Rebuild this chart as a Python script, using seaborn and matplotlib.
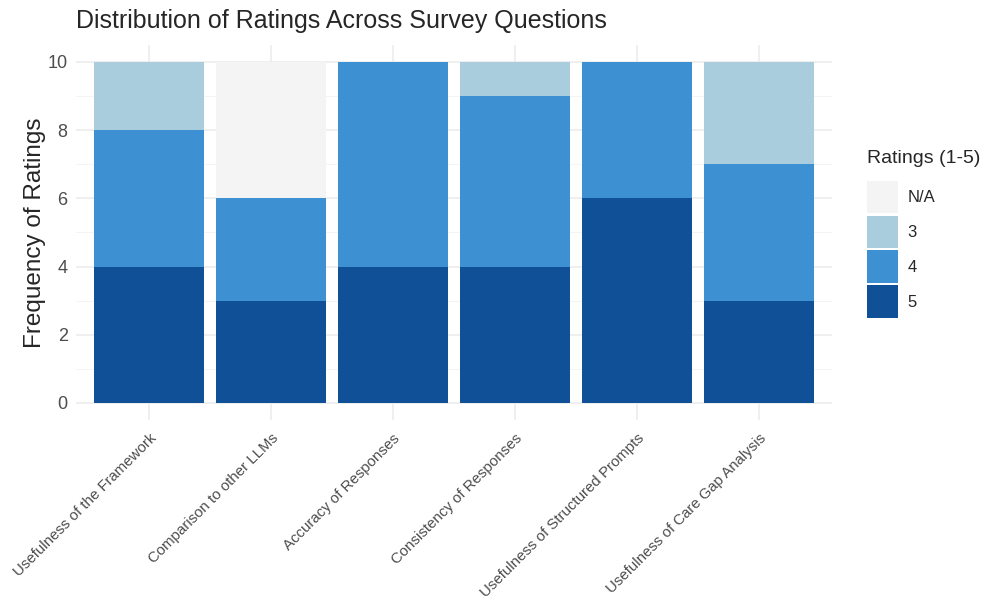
import matplotlib
matplotlib.use("Agg")
import matplotlib.pyplot as plt
import seaborn as sns
import pandas as pd
from matplotlib.patches import Patch

questions = ["Usefulness of the Framework", "Comparison to other LLMs",
             "Accuracy of Responses", "Consistency of Responses",
             "Usefulness of Structured Prompts", "Usefulness of Care Gap Analysis"]
ratings = ["N/A", "3", "4", "5"]
count_na = [0, 4, 0, 0, 0, 0]
count_3 = [2, 0, 0, 1, 0, 3]
count_4 = [4, 3, 6, 5, 4, 4]
count_5 = [4, 3, 4, 4, 6, 3]
colors = {"N/A": "#F4F4F4", "3": "#AACDDD", "4": "#3D91D3", "5": "#105096"}

rows = []
for lab, vals in zip(ratings, [count_na, count_3, count_4, count_5]):
    for q, v in zip(questions, vals):
        rows.append({"question": q, "rating": lab, "count": v})
df = pd.DataFrame(rows)

# cumulative tops, 5 at the bottom of the stack
stack = ["5", "4", "3", "N/A"]
tops = {}
run = [0] * len(questions)
for lab in stack:
    vals = df[df["rating"] == lab]["count"].tolist()
    run = [a + b for a, b in zip(run, vals)]
    tops[lab] = run

sns.set_style("white")
plt.rcParams["font.family"] = ["Liberation Sans", "DejaVu Sans"]

fig = plt.figure(figsize=(9.91, 6.14), dpi=100)
ax = fig.add_axes([0.0767, 0.316, 0.763, 0.611])

# tallest layer first, each lower layer painted over it
for lab in reversed(stack):
    sns.barplot(x=list(range(len(questions))), y=tops[lab], color=colors[lab],
                width=0.9, ax=ax, native_scale=True, saturation=1, linewidth=0)

ax.set_xlim(-0.6, len(questions) - 0.4)
ax.set_ylim(-0.5, 10.5)
ax.set_yticks([0, 2, 4, 6, 8, 10])
ax.set_yticks([1, 3, 5, 7, 9], minor=True)
ax.set_xticks(range(len(questions)))
ax.set_xticklabels(questions, rotation=45, ha="right", rotation_mode="anchor",
                   fontsize=10.8, color="#4D4D4D")
ax.tick_params(axis="y", labelsize=13, labelcolor="#4D4D4D", length=0, pad=6)
ax.tick_params(axis="y", which="minor", length=0)
ax.tick_params(axis="x", length=0, pad=8)
ax.grid(True, which="major", color="#EBEBEB", linewidth=1.1, zorder=0)
ax.grid(True, which="minor", axis="y", color="#F2F2F2", linewidth=0.6, zorder=0)
ax.set_axisbelow(True)
for s in ax.spines.values():
    s.set_visible(False)
ax.set_xlabel("")
ax.set_ylabel("Frequency of Ratings", fontsize=17.5, labelpad=1)
ax.set_title("Distribution of Ratings Across Survey Questions", fontsize=18,
             loc="left", pad=12)

handles = [Patch(facecolor=colors[r], edgecolor="none", label=r) for r in ratings]
leg = fig.legend(handles=handles, title="Ratings (1-5)", loc="upper left",
                 bbox_to_anchor=(0.868, 0.767), frameon=False, fontsize=12,
                 title_fontsize=14, handlelength=1.85, handleheight=2.6,
                 labelspacing=0.16, handletextpad=0.6, borderaxespad=0)
leg._legend_box.align = "left"
leg._legend_box.sep = 10

fig.savefig("out.png", dpi=100)
